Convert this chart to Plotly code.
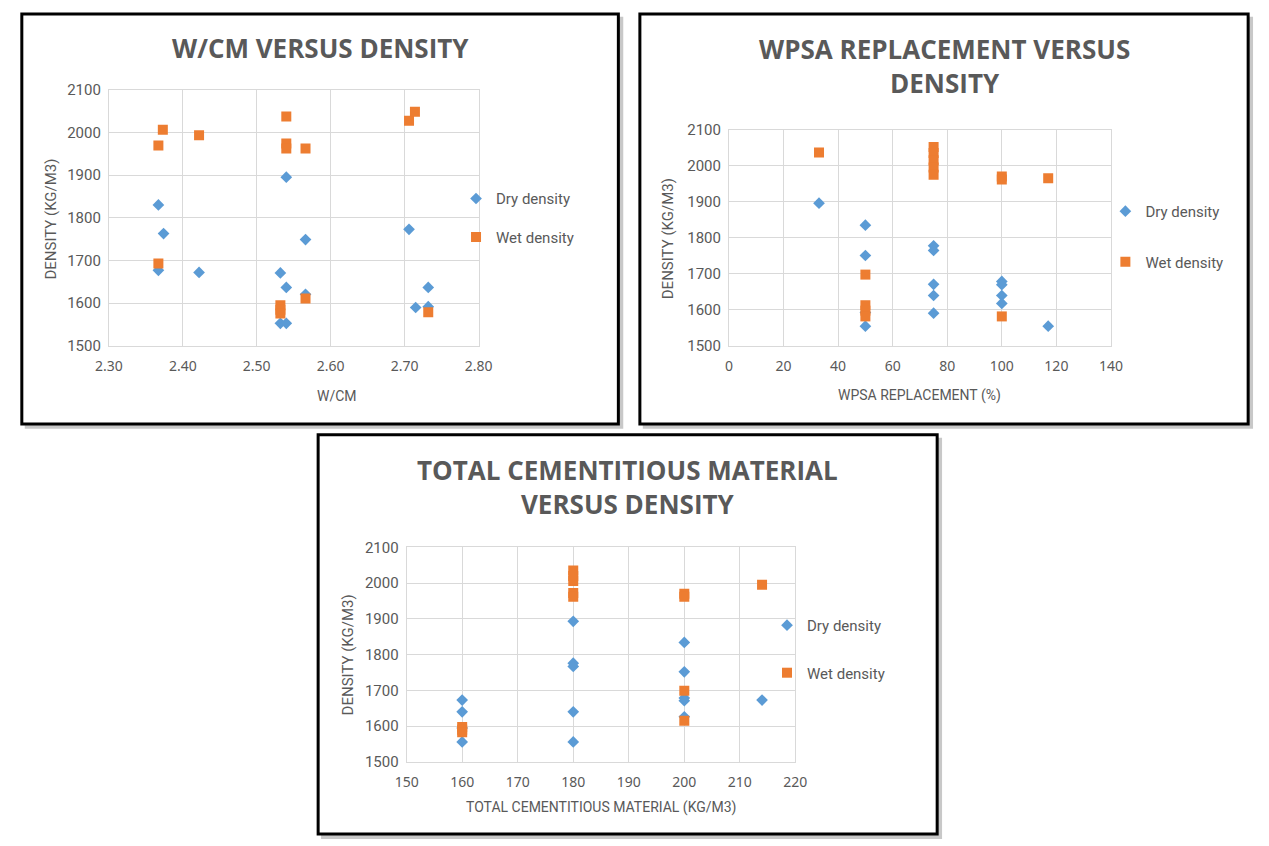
import plotly.graph_objects as go

# ---------------- data ----------------
wcm_dry_x = [2.367, 2.374, 2.367, 2.422, 2.540, 2.532, 2.540, 2.532, 2.540, 2.566, 2.566, 2.706, 2.732, 2.715, 2.732]
wcm_dry_y = [1830, 1763, 1677, 1672, 1895, 1671, 1637, 1553, 1553, 1749, 1621, 1773, 1637, 1590, 1592]
wcm_wet_x = [2.373, 2.367, 2.422, 2.540, 2.540, 2.540, 2.566, 2.367, 2.532, 2.532, 2.532, 2.566, 2.706, 2.714, 2.732]
wcm_wet_y = [2006, 1969, 1993, 2037, 1974, 1962, 1962, 1693, 1595, 1585, 1576, 1611, 2027, 2048, 1579]

wpsa_dry_x = [33, 50, 50, 50, 50, 75, 75, 75, 75, 75, 100, 100, 100, 100, 117]
wpsa_dry_y = [1896, 1835, 1751, 1593, 1555, 1778, 1765, 1671, 1640, 1591, 1679, 1670, 1640, 1618, 1555]
wpsa_wet_x = [33, 50, 50, 50, 50, 75, 75, 75, 75, 75, 100, 100, 100, 117]
wpsa_wet_y = [2037, 1698, 1613, 1598, 1582, 2052, 2035, 2015, 1995, 1975, 1970, 1962, 1582, 1965]

tcm_dry_x = [160, 160, 160, 160, 180, 180, 180, 180, 180, 200, 200, 200, 200, 200, 214]
tcm_dry_y = [1673, 1640, 1595, 1556, 1893, 1776, 1767, 1640, 1556, 1834, 1752, 1679, 1671, 1626, 1673]
tcm_wet_x = [160, 160, 160, 180, 180, 180, 180, 180, 200, 200, 200, 200, 214]
tcm_wet_y = [1598, 1590, 1583, 2035, 2020, 2006, 1972, 1962, 1970, 1962, 1699, 1615, 1995]

series_names = ["Dry density", "Wet density"]
titles = ["W/CM VERSUS DENSITY",
          "WPSA REPLACEMENT VERSUS<br>DENSITY",
          "TOTAL CEMENTITIOUS MATERIAL<br>VERSUS DENSITY"]
x_titles = ["W/CM", "WPSA REPLACEMENT (%)", "TOTAL CEMENTITIOUS MATERIAL (KG/M3)"]
y_title = "DENSITY (KG/M3)"

# ---------------- layout helpers ----------------
W, H = 1269, 846


def fx(p):
    return p / W


def fy(p):
    return 1 - p / H


BLUE = "#5B9BD5"
ORANGE = "#ED7D31"
GRID = "#D9D9D9"
TXT = "#595959"
NARROW = "Liberation Sans Narrow, Arial Narrow, Roboto, sans-serif"
TITLEF = "Open Sans, Noto Sans, sans-serif"

fig = go.Figure()

datasets = [
    (wcm_dry_x, wcm_dry_y, wcm_wet_x, wcm_wet_y),
    (wpsa_dry_x, wpsa_dry_y, wpsa_wet_x, wpsa_wet_y),
    (tcm_dry_x, tcm_dry_y, tcm_wet_x, tcm_wet_y),
]
axis_suffix = ["", "2", "3"]
legend_ids = ["legend", "legend2", "legend3"]

for i, (dx, dy, wx, wy) in enumerate(datasets):
    xa = "x" + axis_suffix[i]
    ya = "y" + axis_suffix[i]
    fig.add_trace(go.Scatter(
        x=dx, y=dy, mode="markers", name=series_names[0],
        marker=dict(symbol="diamond", size=9, color=BLUE),
        xaxis=xa, yaxis=ya, legend=legend_ids[i], legendgroup="dry%d" % i))
    fig.add_trace(go.Scatter(
        x=wx, y=wy, mode="markers", name=series_names[1],
        marker=dict(symbol="square", size=10, color=ORANGE),
        xaxis=xa, yaxis=ya, legend=legend_ids[i], legendgroup="wet%d" % i))

# plot areas (pixel boxes)
boxes = [
    (97, 475, 82.3, 344.3),
    (731.1, 1121.7, 123.3, 344.3),
    (401.5, 799, 550, 769.3),
]
xranges = [[2.3, 2.8], [0, 140], [150, 220]]
xdticks = [0.1, 20, 10]
xformats = [".2f", "d", "d"]

common_axis = dict(showgrid=True, gridcolor=GRID, gridwidth=1, zeroline=False,
                   showline=True, linecolor=GRID, linewidth=1, mirror=True,
                   ticks="", fixedrange=True)

for i, (x0, x1, y0, y1) in enumerate(boxes):
    xk = "xaxis" + axis_suffix[i]
    yk = "yaxis" + axis_suffix[i]
    fig.update_layout({
        xk: dict(common_axis, domain=[fx(x0), fx(x1)], range=xranges[i],
                 dtick=xdticks[i], tick0=xranges[i][0], tickformat=xformats[i],
                 anchor="y" + axis_suffix[i],
                 tickfont=dict(family="Noto Sans, sans-serif", size=14, color=TXT),
                 ticklabelstandoff=7),
        yk: dict(common_axis, domain=[fy(y1), fy(y0)], range=[1500, 2100],
                 dtick=100, tick0=1500, anchor="x" + axis_suffix[i],
                 tickfont=dict(family=NARROW, size=15, color=TXT),
                 ticklabelstandoff=4),
    })

# frames with shadows
frames = [(8, 618, 5, 424), (640, 1262, 5, 424), (311, 944, 435, 843)]
shapes = []
for (x0, x1, y0, y1) in frames:
    shapes.append(dict(type="rect", xref="paper", yref="paper",
                       x0=fx(x0 + 3), x1=fx(x1 + 5), y0=fy(y1 + 5), y1=fy(y0 + 3),
                       fillcolor="#C8C8C8", line=dict(width=0), layer="below"))
    shapes.append(dict(type="rect", xref="paper", yref="paper",
                       x0=fx(x0), x1=fx(x1), y0=fy(y1), y1=fy(y0),
                       fillcolor="white", line=dict(color="black", width=3), layer="below"))

annotations = []
title_pos = [(313, 40), (952, 58), (627, 488)]
for t, (cx, cy) in zip(titles, title_pos):
    annotations.append(dict(text="<b>" + t + "</b>", x=fx(cx), y=fy(cy), xref="paper", yref="paper",
                            xanchor="center", yanchor="middle", showarrow=False,
                            font=dict(family=TITLEF, size=26, color=TXT)))
xt_pos = [(330, 395), (926, 395), (600, 816)]
for t, (cx, cy) in zip(x_titles, xt_pos):
    annotations.append(dict(text=t, x=fx(cx), y=fy(cy), xref="paper", yref="paper",
                            xanchor="center", yanchor="middle", showarrow=False,
                            font=dict(family=NARROW, size=14, color=TXT)))
yt_pos = [(38, 215), (669, 235), (341, 660)]
for (cx, cy) in yt_pos:
    annotations.append(dict(text=y_title, x=fx(cx), y=fy(cy), xref="paper", yref="paper",
                            xanchor="center", yanchor="middle", showarrow=False, textangle=-90,
                            font=dict(family=NARROW, size=15, color=TXT)))

legend_pos = [(472, 189, 38), (1136, 202, 50), (790, 625, 47)]
leg_layout = {}
for i, (sx, sy, gap) in enumerate(legend_pos):
    leg_layout[legend_ids[i]] = dict(
        x=fx(sx - 20), y=fy(sy - 12), xanchor="left", yanchor="top",
        bgcolor="rgba(0,0,0,0)", borderwidth=0, traceorder="grouped",
        tracegroupgap=gap - 22, itemclick=False, itemdoubleclick=False,
        font=dict(family=NARROW, size=15, color=TXT))

fig.update_layout(
    width=W, height=H, margin=dict(l=0, r=0, t=0, b=0),
    paper_bgcolor="white", plot_bgcolor="rgba(0,0,0,0)",
    showlegend=True, shapes=shapes, annotations=annotations,
    **leg_layout)

fig.write_html("out.html", config={"displayModeBar": False},
               post_script="document.body.style.margin='0';document.body.style.padding='0';"
                           "document.body.style.overflow='hidden';")
